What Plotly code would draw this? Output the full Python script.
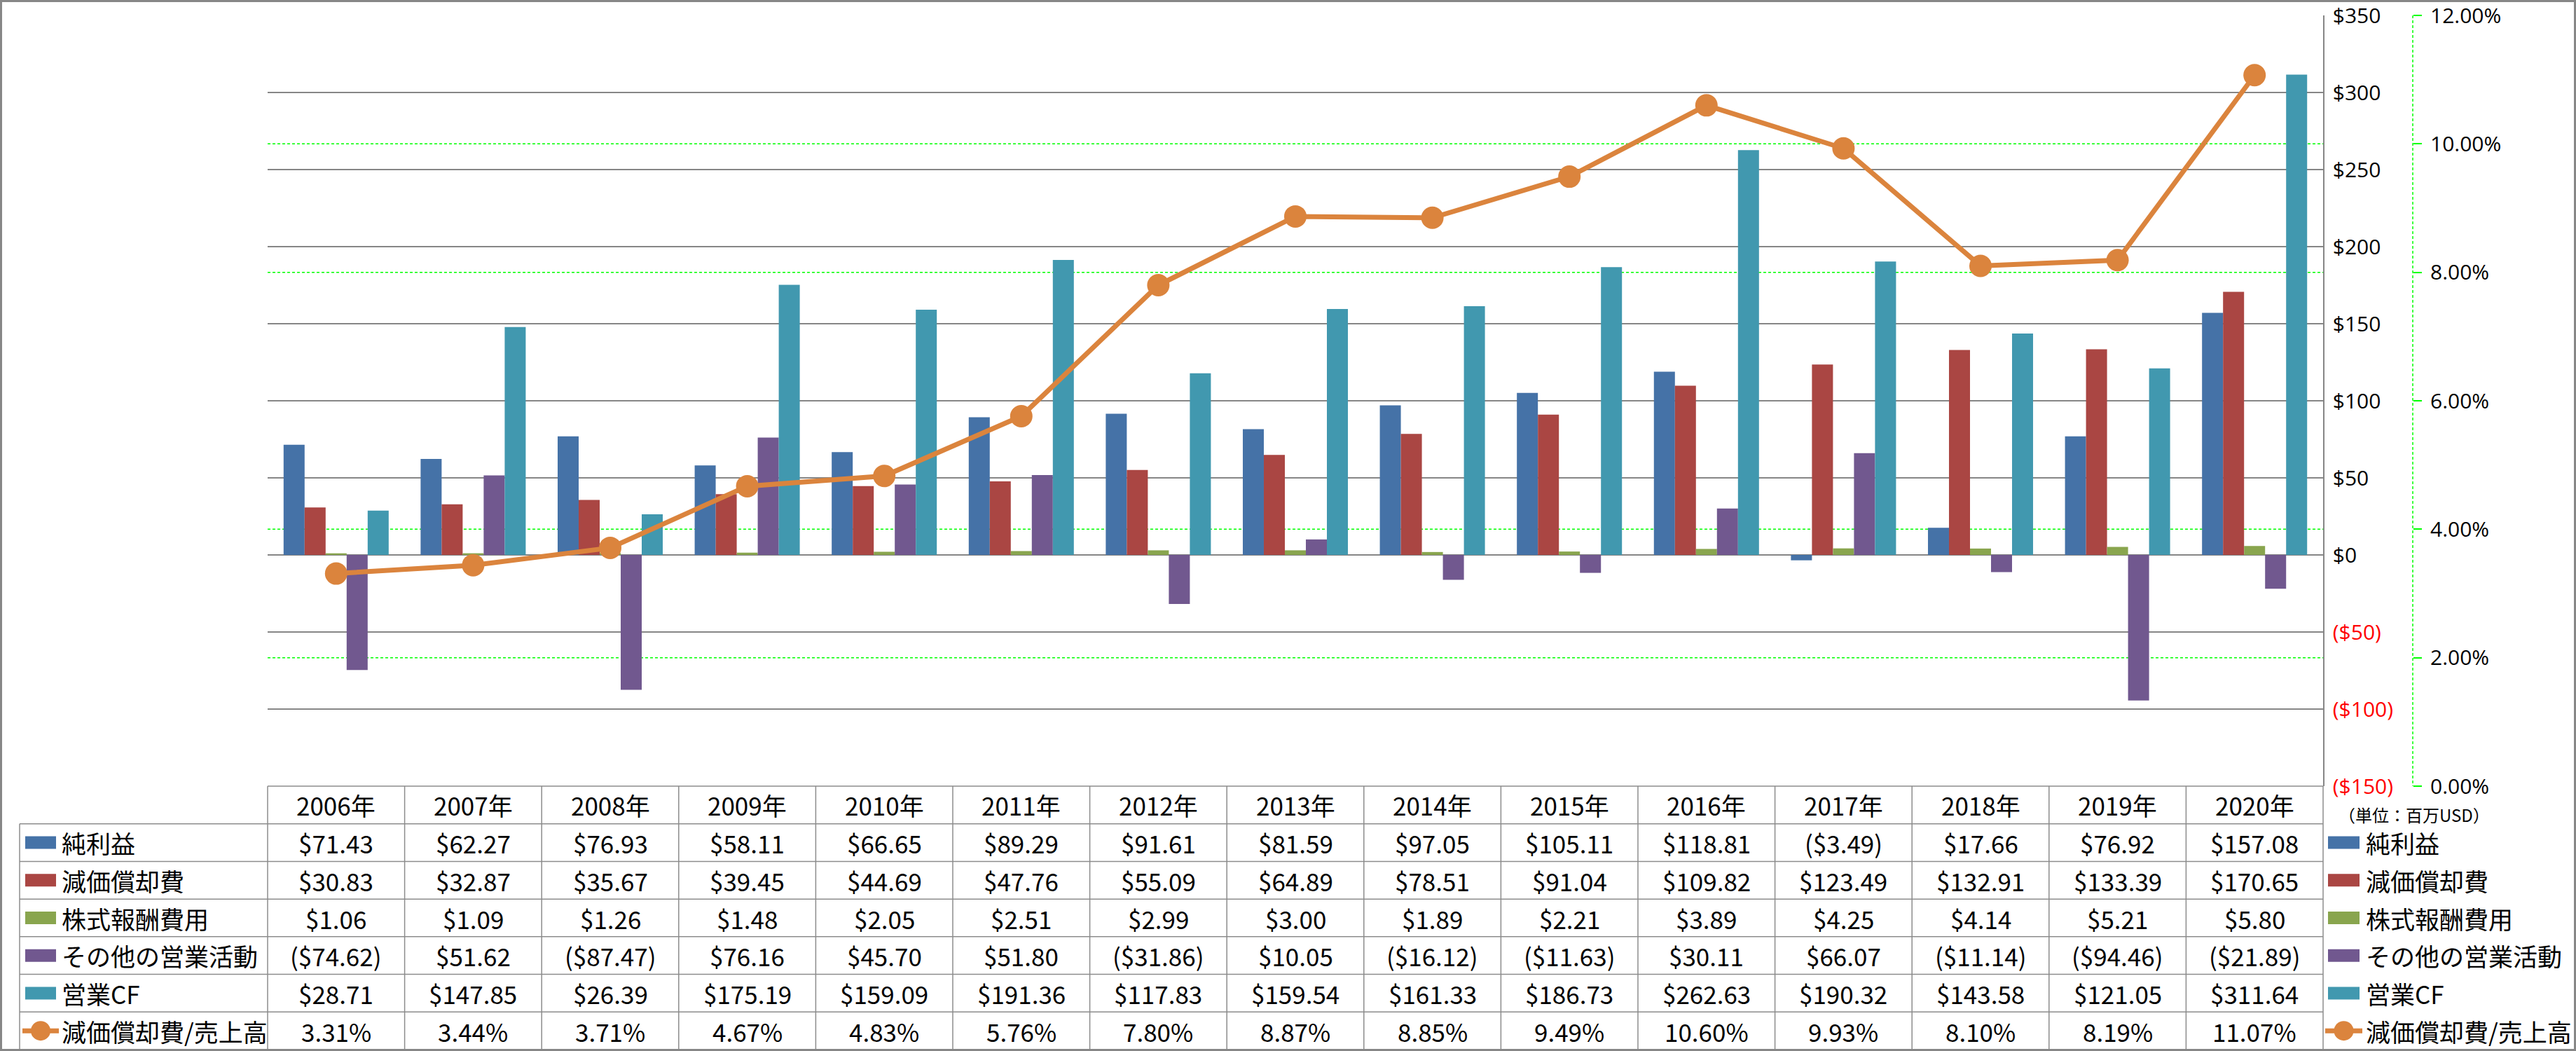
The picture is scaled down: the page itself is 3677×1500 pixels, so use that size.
import plotly.graph_objects as go

# ---------------- data ----------------
years = ["2006年", "2007年", "2008年", "2009年", "2010年", "2011年", "2012年", "2013年",
         "2014年", "2015年", "2016年", "2017年", "2018年", "2019年", "2020年"]
series_names = ["純利益", "減価償却費", "株式報酬費用", "その他の営業活動", "営業CF"]
line_name = "減価償却費/売上高"

net_income = [71.43, 62.27, 76.93, 58.11, 66.65, 89.29, 91.61, 81.59, 97.05, 105.11,
              118.81, -3.49, 17.66, 76.92, 157.08]
depreciation = [30.83, 32.87, 35.67, 39.45, 44.69, 47.76, 55.09, 64.89, 78.51, 91.04,
                109.82, 123.49, 132.91, 133.39, 170.65]
stock_comp = [1.06, 1.09, 1.26, 1.48, 2.05, 2.51, 2.99, 3.00, 1.89, 2.21,
              3.89, 4.25, 4.14, 5.21, 5.80]
other_ops = [-74.62, 51.62, -87.47, 76.16, 45.70, 51.80, -31.86, 10.05, -16.12, -11.63,
             30.11, 66.07, -11.14, -94.46, -21.89]
operating_cf = [28.71, 147.85, 26.39, 175.19, 159.09, 191.36, 117.83, 159.54, 161.33, 186.73,
                262.63, 190.32, 143.58, 121.05, 311.64]
dep_ratio = [3.31, 3.44, 3.71, 4.67, 4.83, 5.76, 7.80, 8.87, 8.85, 9.49,
             10.60, 9.93, 8.10, 8.19, 11.07]

y1_tickvals = [-150, -100, -50, 0, 50, 100, 150, 200, 250, 300, 350]
y1_ticktext = ["($150)", "($100)", "($50)", "$0", "$50", "$100", "$150", "$200", "$250", "$300", "$350"]
y2_tickvals = [0, 2, 4, 6, 8, 10, 12]
y2_ticktext = ["0.00%", "2.00%", "4.00%", "6.00%", "8.00%", "10.00%", "12.00%"]
unit_label = "（単位：百万USD）"

# ---------------- styling / layout ----------------
W, H = 3677, 1500
PL, PR, PT, PB = 382, 3316, 22, 1122      # plot area in px
AX2 = 3444                                 # secondary axis line x
colors = ["#4572A7", "#AA4643", "#89A54E", "#71588F", "#4198AF"]
orange = "#DB843D"
grid_gray = "#868686"
table_gray = "#8C8C8C"
green = "#00FF00"
JP = "Noto Sans CJK JP"
AXF = "Open Sans"


def fx(p):
    return p / W


def fy(p):
    return 1 - p / H


fig = go.Figure()
all_series = [net_income, depreciation, stock_comp, other_ops, operating_cf]
for vals, c, n in zip(all_series, colors, series_names):
    fig.add_trace(go.Bar(x=years, y=vals, name=n, marker=dict(color=c, line=dict(width=0)),
                         showlegend=False, hoverinfo="x+y+name"))
fig.add_trace(go.Scatter(x=years, y=dep_ratio, name=line_name, yaxis="y2", mode="lines+markers",
                         line=dict(color=orange, width=7),
                         marker=dict(size=32, color=orange, line=dict(width=0)),
                         showlegend=False))

shapes = []
annotations = []

# secondary gridlines (green dashed)
for v in y2_tickvals[1:-1]:
    shapes.append(dict(type="line", xref="paper", yref="y2", x0=fx(PL), x1=fx(PR), y0=v, y1=v,
                       line=dict(color=green, width=1.5, dash="4px,3px"), layer="between"))
# secondary axis line (green dashed)
shapes.append(dict(type="line", xref="paper", yref="paper", x0=fx(AX2), x1=fx(AX2),
                   y0=fy(PT), y1=fy(PB), line=dict(color=green, width=1.5, dash="4px,3px")))

# ---------------- data table ----------------
n = len(years)
colw = (PR - PL) / n
TT, TB = PB, 1498
rowh = (TB - TT) / 7
LX = 28

# horizontal lines
shapes.append(dict(type="line", xref="paper", yref="paper", x0=fx(PL), x1=fx(PR), y0=fy(TT), y1=fy(TT),
                   line=dict(color=table_gray, width=1.5)))
for r in range(1, 8):
    yy = TT + r * rowh
    shapes.append(dict(type="line", xref="paper", yref="paper", x0=fx(LX), x1=fx(PR), y0=fy(yy), y1=fy(yy),
                       line=dict(color=table_gray, width=1.5)))
# vertical lines
for k in range(n + 1):
    xx = PL + k * colw
    shapes.append(dict(type="line", xref="paper", yref="paper", x0=fx(xx), x1=fx(xx), y0=fy(TT), y1=fy(TB),
                       line=dict(color=table_gray, width=1.5)))
shapes.append(dict(type="line", xref="paper", yref="paper", x0=fx(LX), x1=fx(LX), y0=fy(TT + rowh), y1=fy(TB),
                   line=dict(color=table_gray, width=1.5)))


def money(v):
    return f"${v:,.2f}" if v >= 0 else f"(${-v:,.2f})"


# header
for k, yname in enumerate(years):
    annotations.append(dict(xref="paper", yref="paper", x=fx(PL + (k + 0.5) * colw), y=fy(TT + 0.5 * rowh),
                            text=yname, showarrow=False, xanchor="center", yanchor="middle",
                            font=dict(family=JP, size=35, color="black")))

row_values = [[money(v) for v in s] for s in all_series] + [[f"{v:.2f}%" for v in dep_ratio]]
row_names = series_names + [line_name]
row_colors = colors + [orange]

for r, (vals, name, col) in enumerate(zip(row_values, row_names, row_colors)):
    yc = TT + (r + 1.5) * rowh
    for k, txt in enumerate(vals):
        annotations.append(dict(xref="paper", yref="paper", x=fx(PL + (k + 0.5) * colw), y=fy(yc),
                                text=txt, showarrow=False, xanchor="center", yanchor="middle",
                                font=dict(family=JP, size=35, color="black")))
    # row label key + text (left) and legend key + text (right)
    for (kx0, kx1, tx) in [(36, 80, 86), (3323, 3368, 3375)]:
        if r < 5:
            shapes.append(dict(type="rect", xref="paper", yref="paper", x0=fx(kx0), x1=fx(kx1),
                               y0=fy(yc - 9), y1=fy(yc + 9), fillcolor=col, line=dict(width=0)))
        else:
            shapes.append(dict(type="line", xref="paper", yref="paper", x0=fx(kx0 - 4), x1=fx(kx1 + 4),
                               y0=fy(yc), y1=fy(yc), line=dict(color=col, width=7)))
            cx = (kx0 + kx1) / 2
            shapes.append(dict(type="circle", xref="paper", yref="paper", x0=fx(cx - 14), x1=fx(cx + 14),
                               y0=fy(yc - 14), y1=fy(yc + 14), fillcolor=col, line=dict(width=0)))
        annotations.append(dict(xref="paper", yref="paper", x=fx(tx), y=fy(yc), text=name, showarrow=False,
                                xanchor="left", yanchor="middle",
                                font=dict(family=JP, size=35, color="black")))

annotations.append(dict(xref="paper", yref="paper", x=fx(3336), y=fy(1162), text=unit_label, showarrow=False,
                        xanchor="left", yanchor="middle", font=dict(family=JP, size=24, color="black")))

# outer border
shapes.append(dict(type="rect", xref="paper", yref="paper", x0=fx(1.5), x1=fx(W - 1.5), y0=fy(1.5), y1=fy(H - 1.5),
                   line=dict(color="#878787", width=3)))

y1_text_colored = [f"<span style='color:#FF0000'>{t}</span>" if v < 0 else t
                   for v, t in zip(y1_tickvals, y1_ticktext)]

fig.update_layout(
    width=W, height=H,
    margin=dict(l=0, r=0, t=0, b=0, pad=0, autoexpand=False),
    paper_bgcolor="white", plot_bgcolor="white",
    barmode="group", bargap=0.233, bargroupgap=0,
    showlegend=False,
    xaxis=dict(domain=[fx(PL), fx(PR)], range=[-0.5, n - 0.5], showticklabels=False, showgrid=False,
               zeroline=False, showline=False, ticks="", automargin=False),
    yaxis=dict(domain=[fy(PB), fy(PT)], range=[-150, 350], side="right", tickvals=y1_tickvals,
               ticktext=y1_text_colored, ticks="", showline=True, linecolor=grid_gray, linewidth=1.5,
               showgrid=True, gridcolor=grid_gray, gridwidth=1.5, zeroline=False, automargin=False,
               tickfont=dict(family=AXF, size=30, color="black"), ticklabelstandoff=6),
    yaxis2=dict(overlaying="y", side="right", anchor="free", position=fx(AX2), range=[0, 12],
                tickvals=y2_tickvals, ticktext=y2_ticktext, ticks="outside", ticklen=12,
                tickcolor=green, tickwidth=1.5, showline=False, showgrid=False, zeroline=False,
                automargin=False,
                tickfont=dict(family=AXF, size=30, color="black"), ticklabelstandoff=6),
    shapes=shapes,
    annotations=annotations,
)

fig.write_html("out.html", config={"displayModeBar": False},
               post_script="document.body.style.margin='0';document.body.style.overflow='hidden';")
